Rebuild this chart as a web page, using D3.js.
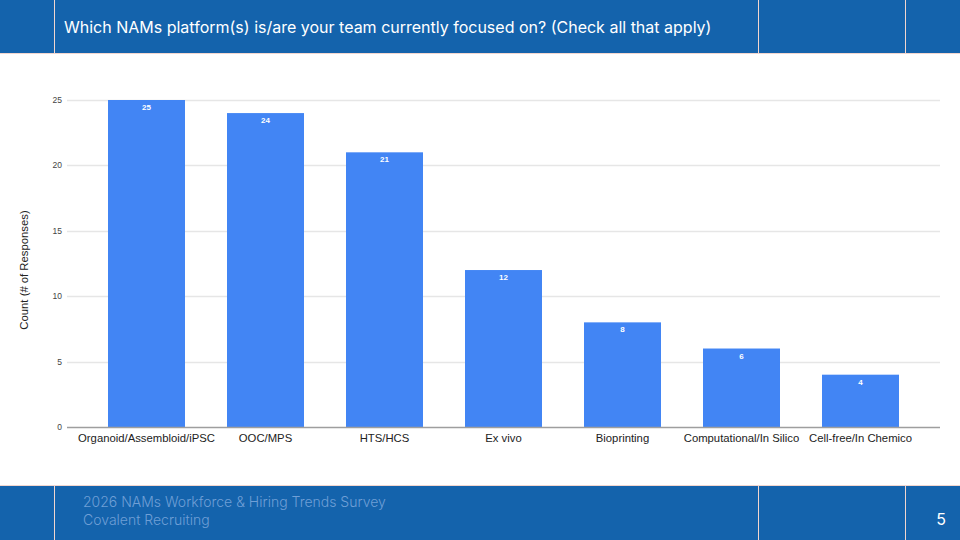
<!DOCTYPE html>
<html><head><meta charset="utf-8">
<script src="https://cdn.jsdelivr.net/npm/d3@7"></script>
<style>body{margin:0;background:#fff}svg{display:block}</style>
</head><body>
<svg id="c" width="960" height="540"></svg>
<script>
const categories = ["Organoid/Assembloid/iPSC","OOC/MPS","HTS/HCS","Ex vivo","Bioprinting","Computational/In Silico","Cell-free/In Chemico"];
const counts = [25,24,21,12,8,6,4];
const yTicks = [0,5,10,15,20,25];
const titleText = "Which NAMs platform(s) is/are your team currently focused on? (Check all that apply)";
const footerLines = ["2026 NAMs Workforce & Hiring Trends Survey","Covalent Recruiting"];
const pageNumber = "5";
const yAxisTitle = "Count (# of Responses)";

const svg = d3.select("#c");
const blue = "#1463ac", lineCol = "#f2d6cf";

// header / footer bands
svg.append("rect").attr("x",0).attr("y",0).attr("width",960).attr("height",53).attr("fill",blue);
svg.append("rect").attr("x",0).attr("y",485).attr("width",960).attr("height",55).attr("fill",blue);
svg.append("line").attr("x1",0).attr("x2",960).attr("y1",53.5).attr("y2",53.5).attr("stroke",lineCol).attr("stroke-width",1);
svg.append("line").attr("x1",0).attr("x2",960).attr("y1",485.5).attr("y2",485.5).attr("stroke",lineCol).attr("stroke-width",1);
[54.5,758.5,905.5].forEach(x=>{
  svg.append("line").attr("x1",x).attr("x2",x).attr("y1",0).attr("y2",53).attr("stroke",lineCol).attr("stroke-width",1);
  svg.append("line").attr("x1",x).attr("x2",x).attr("y1",486).attr("y2",540).attr("stroke",lineCol).attr("stroke-width",1);
});
svg.append("text").attr("x",64).attr("y",33).attr("fill","#fff")
  .attr("font-family","Inter, sans-serif").attr("font-size",16).text(titleText);
svg.selectAll(".ft").data(footerLines).enter().append("text")
  .attr("x",83).attr("y",(d,i)=>507+i*18).attr("fill","#6f9fd6")
  .attr("font-family","Inter, sans-serif").attr("font-weight",300).attr("font-size",14).text(d=>d);
svg.append("text").attr("x",941).attr("y",525).attr("text-anchor","middle").attr("fill","#fff")
  .attr("font-family","Inter, sans-serif").attr("font-size",16).text(pageNumber);

// chart
const x = d3.scaleBand().domain(categories).range([87,920]).paddingInner(0.353).paddingOuter(0.1765);
const y = d3.scaleLinear().domain([0,25]).range([427,100]);
const g = svg.append("g");
const font = "Arial, 'Liberation Sans', sans-serif";

g.selectAll(".grid").data(yTicks.filter(t=>t>0)).enter().append("line")
  .attr("x1",67).attr("x2",940).attr("y1",d=>Math.round(y(d))+0.5).attr("y2",d=>Math.round(y(d))+0.5)
  .attr("stroke","#e6e6e6").attr("stroke-width",1.3);
g.selectAll(".yt").data(yTicks).enter().append("text")
  .attr("x",62).attr("y",d=>y(d)+3).attr("text-anchor","end").attr("fill","#444")
  .attr("font-family",font).attr("font-size",8.5).text(d=>d);

g.selectAll(".bar").data(counts).enter().append("rect")
  .attr("x",(d,i)=>x(categories[i])).attr("width",x.bandwidth())
  .attr("y",d=>y(d)).attr("height",d=>y(0)-y(d)).attr("fill","#4285f4");
g.selectAll(".bl").data(counts).enter().append("text")
  .attr("x",(d,i)=>x(categories[i])+x.bandwidth()/2).attr("y",d=>y(d)+10)
  .attr("text-anchor","middle").attr("fill","#fff").attr("font-weight","bold")
  .attr("font-family",font).attr("font-size",8).text(d=>d);

g.append("line").attr("x1",67).attr("x2",940).attr("y1",427.5).attr("y2",427.5).attr("stroke","#9e9e9e").attr("stroke-width",1.3);

g.selectAll(".xl").data(categories).enter().append("text")
  .attr("x",d=>x(d)+x.bandwidth()/2).attr("y",442).attr("text-anchor","middle").attr("fill","#222")
  .attr("font-family",font).attr("font-size",11.3).text(d=>d);

g.append("text").attr("transform","translate(28,270) rotate(-90)").attr("text-anchor","middle")
  .attr("fill","#222").attr("font-family",font).attr("font-size",11.3).text(yAxisTitle);
</script>
</body></html>
